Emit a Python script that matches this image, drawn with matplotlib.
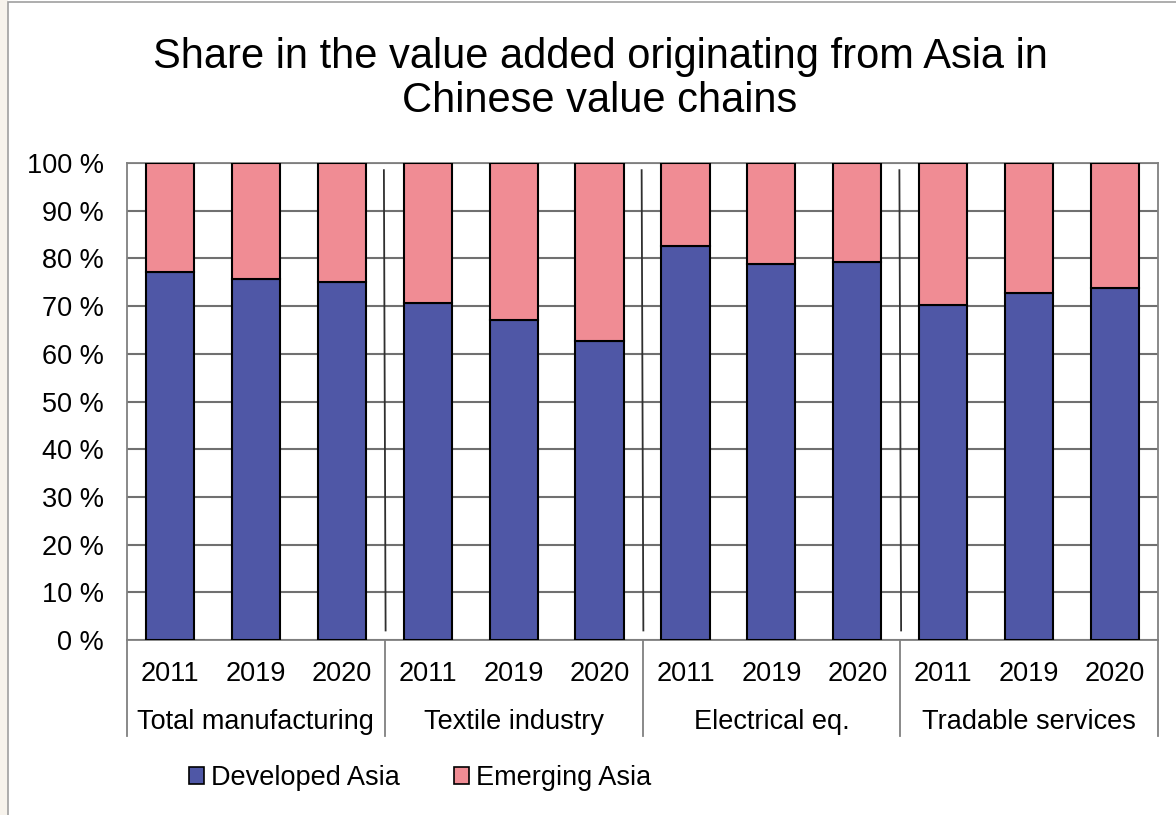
import matplotlib.pyplot as plt
import matplotlib.patches as patches
import matplotlib.transforms as mtransforms
import numpy as np

plt.rcParams['font.family'] = ['Liberation Sans', 'DejaVu Sans']

groups = ['Total manufacturing', 'Textile industry', 'Electrical eq.', 'Tradable services']
years = ['2011', '2019', '2020']
developed = [77.1, 75.7, 75.0, 70.7, 67.0, 62.6, 82.6, 78.8, 79.2, 70.2, 72.7, 73.7]
emerging = [100 - v for v in developed]

dev_color = '#4F57A6'
emg_color = '#F08C94'
fs = 19.5

fig = plt.figure(figsize=(11.76, 8.15), dpi=100)
fig.patch.set_facecolor('white')

# thin frame around the chart area, beige margin on the left
fig.add_artist(patches.Rectangle((0, 0), 8 / 1176, 1, transform=fig.transFigure,
                                 facecolor='#F7F3EC', edgecolor='none'))
fig.add_artist(patches.Rectangle((8 / 1176, -0.01), 1.1, 1.008, transform=fig.transFigure,
                                 facecolor='none', edgecolor='#A0A0A0', linewidth=1.2))

ax = fig.add_axes([127 / 1176, 1 - 640 / 815, (1158 - 127) / 1176, (640 - 163) / 815])

x = np.arange(len(developed))
ax.bar(x, developed, width=0.56, color=dev_color, edgecolor='black', linewidth=1.5, zorder=3,
       label='Developed Asia')
ax.bar(x, emerging, width=0.56, bottom=developed, color=emg_color, edgecolor='black',
       linewidth=1.5, zorder=3, label='Emerging Asia')

ax.set_xlim(-0.5, len(developed) - 0.5)
ax.set_ylim(0, 100)
ax.set_yticks(range(0, 101, 10))
ax.set_yticklabels([f'{v} %' for v in range(0, 101, 10)], fontsize=fs)
ax.tick_params(axis='y', length=0, pad=16.5)
ax.set_xticks([])
ax.grid(axis='y', color='#707070', linewidth=1.5, zorder=0)
for s in ax.spines.values():
    s.set_color('#808080')
    s.set_linewidth(1.3)

# group separators inside the plot
for b in [2.5, 5.5, 8.5]:
    ax.plot([b - 0.01, b + 0.01], [98.5, 2], color='#303030', linewidth=1.3, zorder=2)

# two-level category axis below the plot
trans = mtransforms.blended_transform_factory(ax.transData, ax.transAxes)
for i in x:
    ax.text(i, -0.072, years[i % 3], transform=trans, ha='center', va='center', fontsize=fs)
for g, name in enumerate(groups):
    ax.text(3 * g + 1, -0.171, name, transform=trans, ha='center', va='center', fontsize=fs)
for b in [-0.5, 2.5, 5.5, 8.5, 11.5]:
    ax.plot([b, b], [0, -0.201], transform=trans, color='#808080', linewidth=1.3, clip_on=False)

fig.text(600 / 1176, 1 - 79 / 815,
         'Share in the value added originating from Asia in\nChinese value chains',
         ha='center', va='center', fontsize=30, linespacing=1.15)

leg = fig.legend(loc='center', bbox_to_anchor=(420 / 1176, 1 - 778 / 815), ncol=2,
                 frameon=False, fontsize=fs, handlelength=0.55, handleheight=0.55,
                 handletextpad=0.25, columnspacing=2.0)
for h in leg.legend_handles:
    h.set_edgecolor('black')
    h.set_linewidth(1.2)

fig.savefig('out.png', dpi=100)
